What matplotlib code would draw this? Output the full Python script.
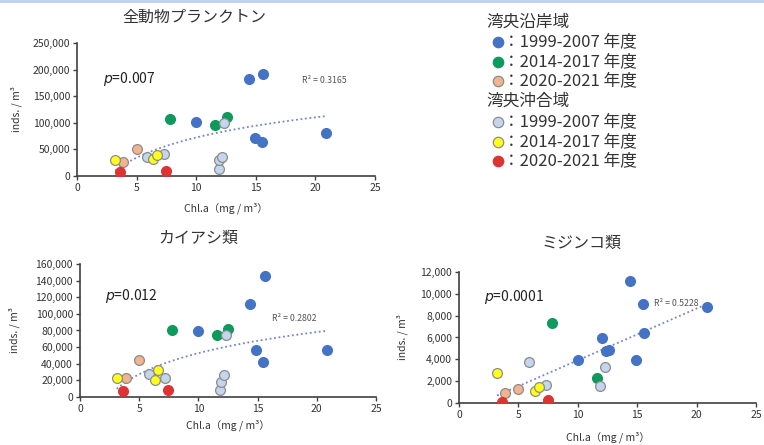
import numpy as np
import matplotlib
matplotlib.use("Agg")
import matplotlib.pyplot as plt
from matplotlib.lines import Line2D
from matplotlib.patches import Rectangle
from matplotlib.ticker import FuncFormatter, MultipleLocator

plt.rcParams['font.family'] = ['Noto Sans CJK JP', 'DejaVu Sans']

# groups: 0-2 coastal (1999-2007, 2014-2017, 2020-2021), 3-5 offshore
group_labels = ["：1999-2007 年度", "：2014-2017 年度", "：2020-2021 年度",
                "：1999-2007 年度", "：2014-2017 年度", "：2020-2021 年度"]
area_labels = ["湾央沿岸域", "湾央沖合域"]
group_colors = ["#4472C4", "#0E9A5C", "#F2B48C", "#C3D6EE", "#FFFF1A", "#DD3333"]
group_edges = ["#4472C4", "#0E9A5C", "#8C8C8C", "#8C8C8C", "#8C8C8C", "#DD3333"]

# all zooplankton
zoo_chl = [14.4, 15.6, 10.0, 14.9, 15.5, 20.9, 7.8, 11.6, 12.6, 5.0, 3.9,
           5.9, 7.3, 12.3, 11.9, 11.95, 12.2, 3.2, 6.4, 6.7, 3.6, 7.5]
zoo_dens = [182000, 191000, 102000, 72000, 63000, 81000, 107000, 95000, 110000,
            50000, 26000, 36000, 41000, 99000, 13000, 30000, 36000,
            30000, 31000, 40000, 8000, 10000]
zoo_grp = [0] * 6 + [1] * 3 + [2] * 2 + [3] * 6 + [4] * 3 + [5] * 2

# copepods
cop_chl = [15.6, 14.4, 10.0, 14.9, 15.5, 20.9, 7.8, 11.6, 12.5, 12.3, 5.8,
           7.2, 11.85, 11.95, 12.2, 5.0, 3.9, 3.1, 6.3, 6.6, 3.6, 7.4]
cop_dens = [146000, 112000, 79000, 56000, 42000, 56000, 80000, 74000, 82000,
            74000, 28000, 23000, 8000, 18000, 27000, 44000, 23000,
            23000, 21000, 33000, 7000, 8000]
cop_grp = [0] * 6 + [1] * 3 + [3] * 6 + [2] * 2 + [4] * 3 + [5] * 2

# cladocerans
dap_chl = [14.4, 15.5, 15.6, 10.0, 14.9, 20.9, 12.0, 12.4, 12.6, 7.8, 11.6,
           5.9, 12.3, 11.9, 7.3, 3.9, 5.0, 3.2, 6.4, 6.7, 3.6, 7.5]
dap_dens = [11180, 9040, 6440, 3970, 3970, 8820, 5950, 4730, 4820, 7360, 2290,
            3760, 3270, 1590, 1650, 900, 1250, 2750, 1120, 1450, 90, 300]
dap_grp = [0] * 9 + [1] * 2 + [3] * 4 + [2] * 2 + [4] * 3 + [5] * 2

fig = plt.figure(figsize=(7.64, 4.45), dpi=100)
fig.add_artist(Rectangle((0, 0.993), 1, 0.007, transform=fig.transFigure,
                         color="#BFD3EE", lw=0))

comma = FuncFormatter(lambda v, _: f"{int(v):,}")


def panel(rect, chl, dens, grp, ymax, ystep, fit, r2, r2_pos, ptxt, p_pos,
          title, title_pos, ylab_x, xlab_y):
    ax = fig.add_axes(rect)
    chl = np.array(chl)
    dens = np.array(dens)
    grp = np.array(grp)

    xs = np.linspace(chl.min(), chl.max(), 100)
    if fit == "log":
        a, b = np.polyfit(np.log(chl), dens, 1)
        ys = a * np.log(xs) + b
    else:
        a, b = np.polyfit(chl, dens, 1)
        ys = a * xs + b
    ax.plot(xs, ys, ls=(0, (1, 1.5)), color="#7486C4", lw=1.3, zorder=2)

    for g in range(6):
        m = grp == g
        ax.scatter(chl[m], dens[m], s=50, color=group_colors[g],
                   edgecolors=group_edges[g], linewidths=0.9, zorder=3)

    ax.set_xlim(0, 25)
    ax.set_ylim(0, ymax)
    ax.xaxis.set_major_locator(MultipleLocator(5))
    ax.yaxis.set_major_locator(MultipleLocator(ystep))
    ax.yaxis.set_major_formatter(comma)
    for s in ["top", "right"]:
        ax.spines[s].set_visible(False)
    for s in ["left", "bottom"]:
        ax.spines[s].set_color("#404040")
        ax.spines[s].set_linewidth(1.2)
    ax.tick_params(direction="out", length=3, width=1, color="#404040",
                   labelsize=7.5, labelcolor="#333333", pad=2)
    ax.patch.set_alpha(0)

    ax.set_ylabel("inds. / m³", fontsize=7.5, color="#333333")
    ax.yaxis.set_label_coords(ylab_x, 0.5)
    ax.set_xlabel("Chl.a（mg / m³）", fontsize=7.5, color="#333333")
    ax.xaxis.set_label_coords(0.5, xlab_y)

    ax.text(r2_pos[0], r2_pos[1], f"R² = {r2}", fontsize=6.3, color="#555555",
            ha="left", va="center")
    ax.text(p_pos[0], p_pos[1], r"$\it{p}$=" + ptxt, fontsize=10,
            color="#222222", ha="left", va="center")
    fig.text(title_pos[0], title_pos[1], title, fontsize=11.5, color="#333333",
             ha="center", va="center")
    return ax


panel([0.1008, 0.6045, 0.390, 0.299], zoo_chl, zoo_dens, zoo_grp, 250000,
      50000, "log", "0.3165", (18.9, 180000), "0.007", (2.2, 182000),
      "全動物プランクトン", (194 / 764, 1 - 17 / 445), -0.183, -0.2)

panel([0.1047, 0.1079, 0.3874, 0.2989], cop_chl, cop_dens, cop_grp, 160000,
      20000, "log", "0.2802", (16.2, 95000), "0.012", (2.1, 121000),
      "カイアシ類", (198 / 764, 1 - 238 / 445), -0.203, -0.17)

panel([0.6008, 0.0944, 0.3887, 0.2944], dap_chl, dap_dens, dap_grp, 12000,
      2000, "lin", "0.5228", (16.4, 9070), "0.0001", (2.1, 9750),
      "ミジンコ類", (582 / 764, 1 - 243 / 445), -0.172, -0.215)

# group legend drawn as text rows with circle markers
W, H = 764, 445
rows_y = [22, 42, 62, 81, 101, 122, 142, 161]
for i, y in enumerate(rows_y):
    fy = 1 - y / H
    if i in (0, 4):
        fig.text(486 / W, fy, area_labels[i // 4], fontsize=12,
                 color="#333333", ha="left", va="center")
        continue
    g = i - 1 if i < 4 else i - 2
    fig.add_artist(Line2D([498 / W], [fy], marker="o", markersize=7.5,
                          markerfacecolor=group_colors[g],
                          markeredgecolor=group_edges[g], markeredgewidth=0.9,
                          transform=fig.transFigure))
    fig.text(503 / W, fy, group_labels[g], fontsize=12, color="#333333",
             ha="left", va="center")

fig.savefig("out.png", dpi=100)
